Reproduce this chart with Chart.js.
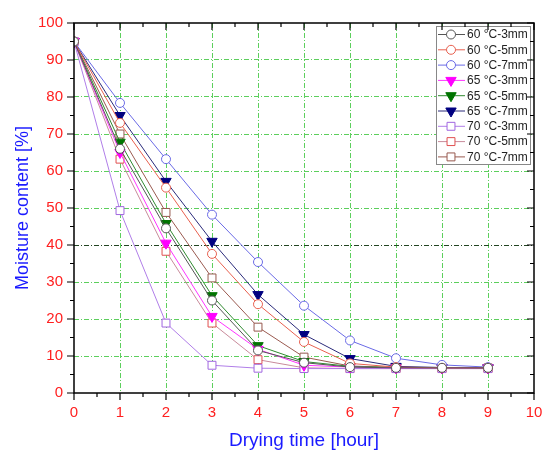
<!DOCTYPE html>
<html>
<head>
<meta charset="utf-8">
<script src="https://cdn.jsdelivr.net/npm/chart.js@4/dist/chart.umd.min.js"></script>
<style>
html,body{margin:0;padding:0;background:#fff;}
#wrap{position:relative;width:543px;height:450px;}
</style>
</head>
<body>
<div id="wrap"><canvas id="c" width="543" height="450"></canvas></div>
<script>
// ---- data ----
const times = [0, 1, 2, 3, 4, 5, 6, 7, 8, 9];
const seriesLabels = ['60 °C-3mm','60 °C-5mm','60 °C-7mm','65 °C-3mm','65 °C-5mm','65 °C-7mm','70 °C-3mm','70 °C-5mm','70 °C-7mm'];
const s60_3 = [95, 66.0, 44.5, 25.0, 11.5, 8.2, 7.0, 6.8, 6.8, 6.8];
const s60_5 = [95, 73.0, 55.5, 37.6, 24.0, 13.8, 8.0, 7.0, 6.8, 6.8];
const s60_7 = [95, 78.4, 63.2, 48.2, 35.4, 23.6, 14.2, 9.4, 7.6, 7.0];
const s65_3 = [95, 65.0, 40.5, 20.7, 11.8, 7.5, 7.0, 6.8, 6.8, 6.8];
const s65_5 = [95, 67.8, 45.8, 26.3, 12.8, 8.5, 7.2, 6.9, 6.8, 6.8];
const s65_7 = [95, 75.0, 57.2, 41.0, 26.6, 15.8, 9.3, 7.2, 6.9, 6.8];
const s70_3 = [95, 49.3, 18.9, 7.5, 6.7, 6.6, 6.6, 6.6, 6.6, 6.6];
const s70_5 = [95, 63.2, 38.3, 18.9, 9.0, 6.8, 6.6, 6.6, 6.6, 6.6];
const s70_7 = [95, 70.0, 48.8, 31.1, 17.8, 9.7, 7.3, 6.9, 6.8, 6.8];
const xTicks = [0,1,2,3,4,5,6,7,8,9,10];
const yTicks = [0,10,20,30,40,50,60,70,80,90,100];

const FONT = "'Liberation Sans', Arial, sans-serif";
const GRID = '#5ccf5c';

const styles = [
  {line:'#555555', stroke:'#555555', fill:'#ffffff', shape:'circle', r:4.5, rot:0},
  {line:'#e8604f', stroke:'#e8604f', fill:'#ffffff', shape:'circle', r:4.5, rot:0},
  {line:'#6a6ae6', stroke:'#6a6ae6', fill:'#ffffff', shape:'circle', r:4.5, rot:0},
  {line:'#ff33ff', stroke:'#ff00ff', fill:'#ff00ff', shape:'triangle', r:6, rot:180},
  {line:'#2f8a2f', stroke:'#007400', fill:'#007400', shape:'triangle', r:6, rot:180},
  {line:'#2a2a7a', stroke:'#000080', fill:'#000080', shape:'triangle', r:6, rot:180},
  {line:'#b07ee8', stroke:'#a066e0', fill:'#ffffff', shape:'rect', r:5.6, rot:0},
  {line:'#c88a9a', stroke:'#e05050', fill:'#ffffff', shape:'rect', r:5.6, rot:0},
  {line:'#9a5a50', stroke:'#96584e', fill:'#ffffff', shape:'rect', r:5.6, rot:0}
];
const seriesData = [s60_3, s60_5, s60_7, s65_3, s65_5, s65_7, s70_3, s70_5, s70_7];

const datasets = seriesData.map((d, i) => ({
  label: seriesLabels[i],
  data: d.map((v, j) => ({x: times[j], y: v})),
  borderColor: styles[i].line,
  borderWidth: 1,
  backgroundColor: styles[i].fill,
  pointBackgroundColor: styles[i].fill,
  pointBorderColor: styles[i].stroke,
  pointBorderWidth: 1,
  pointStyle: styles[i].shape,
  pointRadius: styles[i].r,
  pointRotation: styles[i].rot,
  tension: 0,
  fill: false
}));

function drawMarker(ctx, st, x, y) {
  ctx.save();
  ctx.fillStyle = st.fill;
  ctx.strokeStyle = st.stroke;
  ctx.lineWidth = 1;
  if (Chart.helpers && Chart.helpers.drawPoint) {
    Chart.helpers.drawPoint(ctx, {pointStyle: st.shape, rotation: st.rot, radius: st.r, borderWidth: 1}, x, y);
  } else {
    ctx.beginPath(); ctx.arc(x, y, st.r, 0, Math.PI*2); ctx.fill(); ctx.stroke();
  }
  ctx.restore();
}

const framePlugin = {
  id: 'frameLegend',
  afterDraw(chart) {
    const ctx = chart.ctx;
    const a = chart.chartArea;
    const xs = chart.scales.x, ys = chart.scales.y;
    // legend
    const lx = 436, ly = 26, lw = 94, lh = 138;
    ctx.save();
    ctx.fillStyle = '#ffffff';
    ctx.fillRect(lx, ly, lw, lh);
    ctx.strokeStyle = '#888888';
    ctx.lineWidth = 1;
    ctx.strokeRect(lx + 0.5, ly + 0.5, lw, lh);
    ctx.font = '12px ' + FONT;
    ctx.textBaseline = 'middle';
    ctx.textAlign = 'left';
    chart.data.datasets.forEach((ds, i) => {
      const y = ly + 8.5 + i * 15.3;
      ctx.strokeStyle = styles[i].line;
      ctx.lineWidth = 1;
      ctx.beginPath(); ctx.moveTo(438, y); ctx.lineTo(465, y); ctx.stroke();
      drawMarker(ctx, styles[i], 451, y);
      ctx.fillStyle = '#222222';
      ctx.fillText(ds.label, 467, y + 0.5);
    });
    ctx.restore();
    // frame
    ctx.save();
    ctx.strokeStyle = '#000';
    ctx.lineWidth = 1.5;
    ctx.strokeRect(a.left, a.top, a.right - a.left, a.bottom - a.top);
    ctx.lineWidth = 1.2;
    ctx.beginPath();
    for (let v = 0; v <= 10; v += 0.5) {
      const px = xs.getPixelForValue(v);
      const major = Number.isInteger(v);
      const len = major ? 7 : 4;
      ctx.moveTo(px, a.bottom); ctx.lineTo(px, a.bottom + len);
      ctx.moveTo(px, a.top); ctx.lineTo(px, a.top + len);
    }
    for (let v = 0; v <= 100; v += 5) {
      const py = ys.getPixelForValue(v);
      const major = v % 10 === 0;
      const len = major ? 7 : 4;
      ctx.moveTo(a.left, py); ctx.lineTo(a.left - len, py);
      ctx.moveTo(a.right, py); ctx.lineTo(a.right - len, py);
    }
    ctx.stroke();
    ctx.restore();
  }
};

new Chart(document.getElementById('c'), {
  type: 'line',
  data: { datasets },
  options: {
    responsive: false,
    animation: false,
    layout: { padding: { top: 23, right: 9, left: 0, bottom: 0 } },
    plugins: { legend: { display: false }, tooltip: { enabled: false } },
    scales: {
      x: {
        type: 'linear', min: 0, max: 10,
        afterFit(s) { s.height = 57; s.paddingLeft = 0; s.paddingRight = 0; },
        afterBuildTicks(s) { s.ticks = xTicks.map(v => ({value: v})); },
        ticks: { color: '#ff2020', font: { size: 15, family: FONT }, padding: 11, maxRotation: 0 },
        grid: {
          drawTicks: false,
          color: (c) => (c.tick && (c.tick.value === 0 || c.tick.value === 10)) ? 'rgba(0,0,0,0)' : GRID,
          lineWidth: 1
        },
        border: { display: false, dash: [5, 2, 1, 2] },
        title: { display: true, text: 'Drying time [hour]', color: '#1a1aff', font: { size: 19, family: FONT, lineHeight: 1 }, padding: { top: 0, bottom: 0 } }
      },
      y: {
        type: 'linear', min: 0, max: 100,
        afterFit(s) { s.width = 74; s.paddingTop = 0; s.paddingBottom = 0; },
        afterBuildTicks(s) { s.ticks = yTicks.map(v => ({value: v})); },
        ticks: { color: '#ff2020', font: { size: 15, family: FONT }, padding: 11 },
        grid: {
          drawTicks: false,
          color: (c) => {
            if (!c.tick) return GRID;
            if (c.tick.value === 0 || c.tick.value === 100) return 'rgba(0,0,0,0)';
            if (c.tick.value === 40) return '#224422';
            return GRID;
          },
          lineWidth: 1
        },
        border: { display: false, dash: [5, 2, 1, 2] },
        title: { display: true, text: 'Moisture content [%]', color: '#1a1aff', font: { size: 18, family: FONT, lineHeight: 1 }, padding: { top: 14, bottom: 0 } }
      }
    }
  },
  plugins: [framePlugin]
});
</script>
</body>
</html>
